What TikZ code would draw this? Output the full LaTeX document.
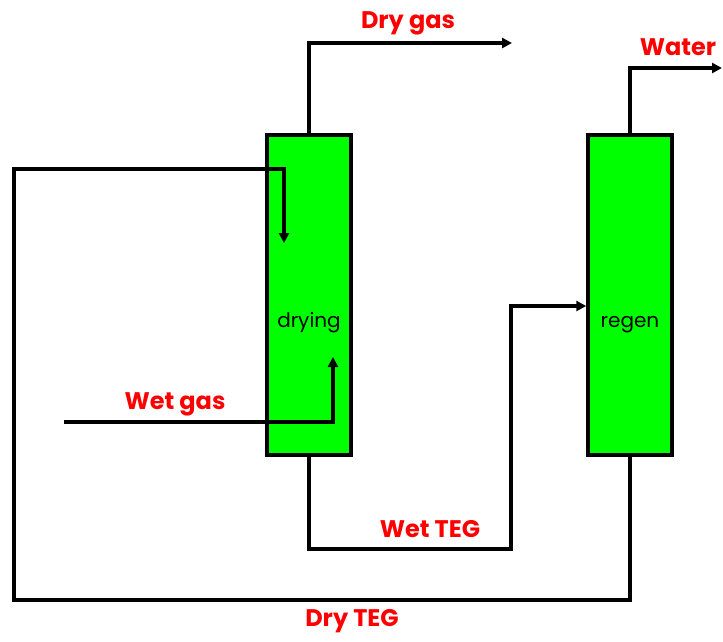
\documentclass[tikz,border=0pt]{standalone}
\usepackage{fontspec}
\setmainfont{Poppins}
\usetikzlibrary{arrows.meta}
\definecolor{boxgreen}{RGB}{0,255,0}
\tikzset{
  column/.style={draw=black, line width=3.5pt, fill=boxgreen, minimum width=84pt, minimum height=320pt, inner sep=0pt},
  coltext/.style={font=\fontsize{20}{24}\selectfont, inner sep=0pt},
  pipe/.style={line width=3.5pt, line join=miter},
  flow/.style={pipe, -{Triangle[length=10pt,width=10pt]}},
  tag/.style={text=red, font=\bfseries\fontsize{24}{28}\selectfont, inner sep=0pt},
}
\begin{document}
\begin{tikzpicture}[x=1pt,y=-1pt]
\useasboundingbox (0,0) rectangle (723,641);
% columns
\node[column] (drying) at (309,295) {};
\node[column] (regen) at (630,295) {};
\node[coltext] (dryingtext) at (309,323) {drying};
\node[coltext] (regentext) at (630,325) {regen};
% free ends / bends
\coordinate (drygasend) at (512,43);
\coordinate (waterend) at (722,68);
\coordinate (wetgasstart) at (64,422);
\coordinate (wetgastip) at (333,357);
\coordinate (drytegtip) at (284,243);
% dry gas
\draw[flow] (drying.north) |- (drygasend);
% water
\draw[flow] (regen.north) |- (waterend);
% wet gas
\draw[flow] (wetgasstart) -| (wetgastip);
% wet TEG
\draw[flow] (drying.south) |- (511,549) |- (regen.west |- 0,306);
% dry TEG loop
\draw[flow] (regen.south) |- (14,600) |- (284,169) -- (drytegtip);
% labels
\node[tag] (ldrygas) at (408,23) {Dry gas};
\node[tag] (lwater) at (678,47) {Water};
\node[tag] (lwetgas) at (175,404) {Wet gas};
\node[tag] (lwetteg) at (430,529) {Wet TEG};
\node[tag] (ldryteg) at (352,621) {Dry TEG};
\end{tikzpicture}
\end{document}
